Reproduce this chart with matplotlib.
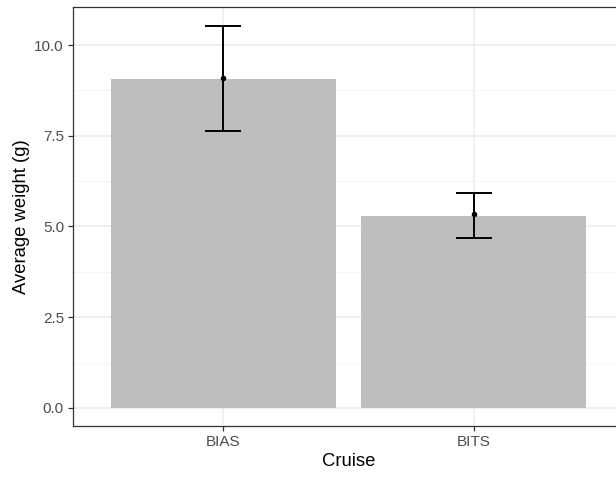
import numpy as np
import matplotlib
matplotlib.use("Agg")
import matplotlib.pyplot as plt
from matplotlib.ticker import MultipleLocator

# Data
cruises = ["BIAS", "BITS"]
mean_weight = [9.06, 5.29]
point_weight = [9.10, 5.34]
err_low = [7.63, 4.68]
err_high = [10.53, 5.92]

plt.rcParams["font.family"] = ["Liberation Sans", "DejaVu Sans"]

fig = plt.figure(figsize=(6.16, 4.82), dpi=100)
# panel runs a little past the right edge, as in the reference
ax = fig.add_axes([73 / 616, 56 / 482, 551 / 616, 419 / 482])

x = np.arange(1, len(cruises) + 1)
ax.bar(x, mean_weight, width=0.9, color="#bebebe", zorder=2)

pts = np.array(point_weight)
lo = pts - np.array(err_low)
hi = np.array(err_high) - pts
ax.errorbar(x, pts, yerr=[lo, hi], fmt="o", color="black", markersize=3,
            elinewidth=1.4, capsize=13.3, capthick=1.4, zorder=3)

ax.set_xlim(0.4, 2.6)
ax.set_ylim(-0.5, 11.05)
ax.set_xticks(x)
ax.set_xticklabels(cruises)
ax.yaxis.set_major_locator(MultipleLocator(2.5))
ax.yaxis.set_minor_locator(MultipleLocator(1.25))
ax.yaxis.set_major_formatter(matplotlib.ticker.FormatStrFormatter("%.1f"))

# theme_bw look
ax.grid(which="major", color="#ebebeb", linewidth=1.1, zorder=0)
ax.grid(which="minor", axis="y", color="#f3f3f3", linewidth=0.6, zorder=0)
ax.set_axisbelow(True)
for s in ax.spines.values():
    s.set_color("#333333")
    s.set_linewidth(0.9)
ax.tick_params(which="major", length=3.5, width=0.9, color="#333333",
               labelcolor="#4d4d4d", labelsize=11, pad=3)
ax.tick_params(which="minor", length=0)

ax.set_xlabel("Cruise", fontsize=13.3, color="black", labelpad=3)
ax.set_ylabel("Average weight (g)", fontsize=13.3, color="black", labelpad=3)

fig.savefig("out.png", dpi=100)
